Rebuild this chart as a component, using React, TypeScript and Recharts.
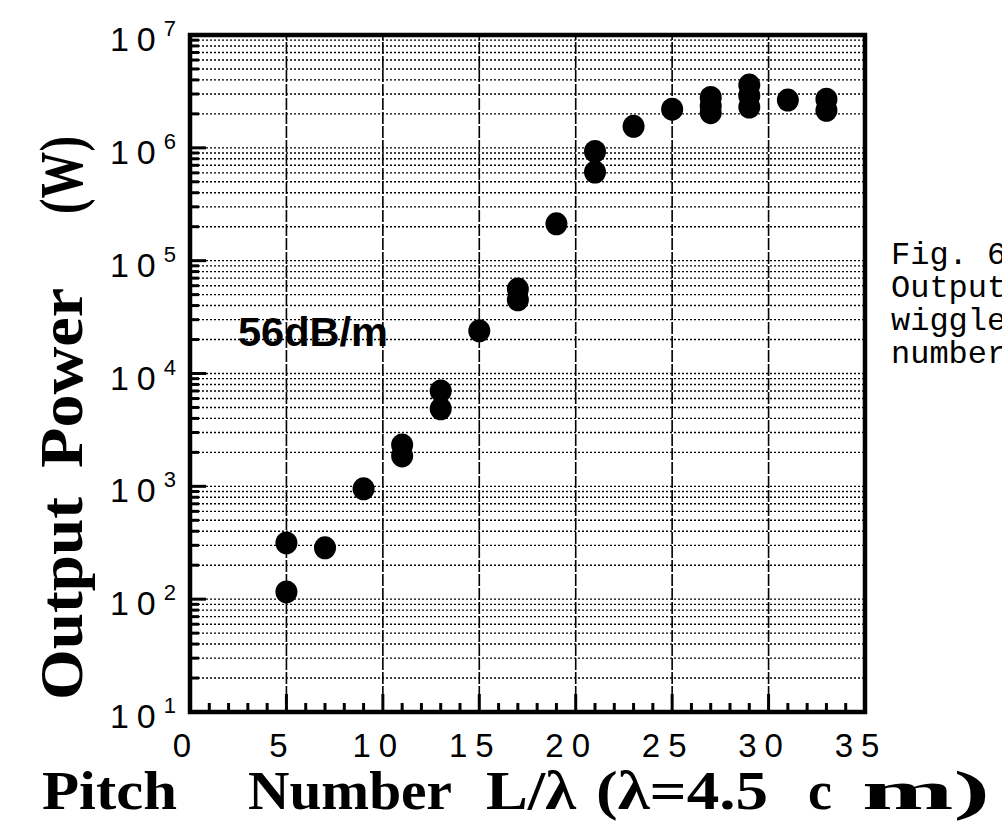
import { ScatterChart, Scatter, XAxis, YAxis, CartesianGrid, ReferenceLine, ReferenceArea } from 'recharts';

const pitchNumbers = [5, 5, 7, 9, 11, 11, 13, 13, 15, 17, 17, 19, 21, 21, 23, 25, 27, 27, 27, 29, 29, 29, 31, 33, 33];
const outputPower = [
  315, 116, 285, 950, 2330, 1860, 7000, 4860, 23900, 56000, 45000, 212000, 930000, 610000,
  1550000, 2200000, 2800000, 2350000, 2050000, 3600000, 2900000, 2300000, 2650000, 2700000, 2150000,
];

const xTicks = [0, 1, 2, 3, 4, 5, 6, 7, 8, 9, 10, 11, 12, 13, 14, 15, 16, 17, 18, 19, 20, 21, 22, 23, 24, 25, 26, 27, 28, 29, 30, 31, 32, 33, 34, 35];
const xMajor = [5, 10, 15, 20, 25, 30];
const decades = [10, 100, 1000, 10000, 100000, 1000000, 10000000];
const decadeExps = ['1', '2', '3', '4', '5', '6', '7'];
const mantissas = [1, 2, 3, 4, 5, 6, 7, 8, 9];

const yTicks = decades.flatMap((d, i) => (i === decades.length - 1 ? [d] : mantissas.map((m) => m * d)));
const data = pitchNumbers.map((x, i) => ({ x, y: outputPower[i] }));

const W = 1002;
const H = 823;
const PLOT_LEFT = 190;
const PLOT_BOTTOM = 712;

const tickFont = '"Liberation Sans", Arial, sans-serif';
const serif = '"Liberation Serif", "Times New Roman", serif';

function YTick(props: any) {
  const { y, payload } = props;
  const di = decades.indexOf(payload.value);
  const isDecade = di >= 0;
  return (
    <g>
      <line x1={PLOT_LEFT} x2={PLOT_LEFT + (isDecade ? 16 : 9)} y1={y} y2={y} stroke="#000" strokeWidth={3} />
      {isDecade && (
        <text x={176} y={y + 16} textAnchor="end" fontFamily={tickFont} fontSize={34} fill="#000" letterSpacing={8}>
          10
          <tspan dy={-15} fontSize={22} letterSpacing={0}>{decadeExps[di]}</tspan>
        </text>
      )}
    </g>
  );
}

function XTick(props: any) {
  const { x, payload } = props;
  const isMajor = payload.value % 5 === 0;
  return (
    <g>
      <line x1={x} x2={x} y1={PLOT_BOTTOM} y2={PLOT_BOTTOM - (isMajor ? 18 : 9)} stroke="#000" strokeWidth={3} />
      {isMajor && (
        <text x={x - 4} y={PLOT_BOTTOM + 45} textAnchor="middle" fontFamily={tickFont} fontSize={33} fill="#000" letterSpacing={8}>
          {payload.value}
        </text>
      )}
    </g>
  );
}

export default function App() {
  return (
    <div style={{ position: 'absolute', left: 0, top: 0, width: W, height: H, background: '#fff', overflow: 'hidden' }}>
      <ScatterChart width={W} height={H} margin={{ top: 35, right: 137, bottom: 71, left: 130 }}>
        <CartesianGrid vertical={false} stroke="#000" strokeWidth={1.4} strokeDasharray="2 2" />
        {xMajor.map((v) => (
          <ReferenceLine key={v} x={v} stroke="#000" strokeWidth={1.6} strokeDasharray="12 2" />
        ))}
        <XAxis
          type="number"
          dataKey="x"
          domain={[0, 35]}
          ticks={xTicks}
          interval={0}
          height={40}
          tickSize={0}
          tickMargin={0}
          axisLine={false}
          tickLine={false}
          tick={<XTick />}
        />
        <YAxis
          type="number"
          dataKey="y"
          scale="log"
          domain={[10, 10000000]}
          allowDataOverflow
          ticks={yTicks}
          interval={0}
          width={60}
          tickSize={0}
          tickMargin={0}
          axisLine={false}
          tickLine={false}
          tick={<YTick />}
        />
        <ReferenceArea x1={0} x2={35} y1={10} y2={10000000} fill="none" stroke="#000" strokeWidth={4.5} />
        <Scatter
          data={data}
          fill="#000"
          isAnimationActive={false}
          shape={(p: any) => <ellipse cx={p.cx} cy={p.cy} rx={11} ry={11.5} fill="#000" />}
        />
      </ScatterChart>
      <svg width={W} height={H} style={{ position: 'absolute', left: 0, top: 0, pointerEvents: 'none' }}>
        <text x={238} y={346} fontFamily={tickFont} fontWeight="bold" fontSize={40} textLength={150} lengthAdjust="spacingAndGlyphs" fill="#000">
          56dB/m
        </text>
        {/* figure caption, cut off at the right edge like the scan */}
        <g fontFamily={'"Liberation Mono", "Courier New", monospace'} fontSize={32} fill="#000">
          <text x={891} y={264}>Fig. 6</text>
          <text x={891} y={297}>Output</text>
          <text x={891} y={330}>wiggle</text>
          <text x={891} y={363}>number</text>
        </g>
        <g fontFamily={serif} fontWeight="bold" fontSize={62} fill="#000">
          <text transform="translate(82,700) rotate(-90)" x={0} y={0} textLength={203} lengthAdjust="spacingAndGlyphs">Output</text>
          <text transform="translate(82,468) rotate(-90)" x={0} y={0} textLength={180} lengthAdjust="spacingAndGlyphs">Power</text>
          <text transform="translate(82,214) rotate(-90)" x={0} y={0} textLength={78} lengthAdjust="spacingAndGlyphs">(W)</text>
        </g>
        <g fontFamily={serif} fontWeight="bold" fontSize={54} fill="#000">
          <text x={42} y={809} textLength={135} lengthAdjust="spacingAndGlyphs">Pitch</text>
          <text x={248} y={809} textLength={204} lengthAdjust="spacingAndGlyphs">Number</text>
          <text x={486} y={809} textLength={90} lengthAdjust="spacingAndGlyphs">L/λ</text>
          <text x={596} y={809} textLength={172} lengthAdjust="spacingAndGlyphs">(λ=4.5</text>
          <text x={808} y={809}>c</text>
          <text x={862} y={809} textLength={128} lengthAdjust="spacingAndGlyphs">m)</text>
        </g>
      </svg>
    </div>
  );
}
